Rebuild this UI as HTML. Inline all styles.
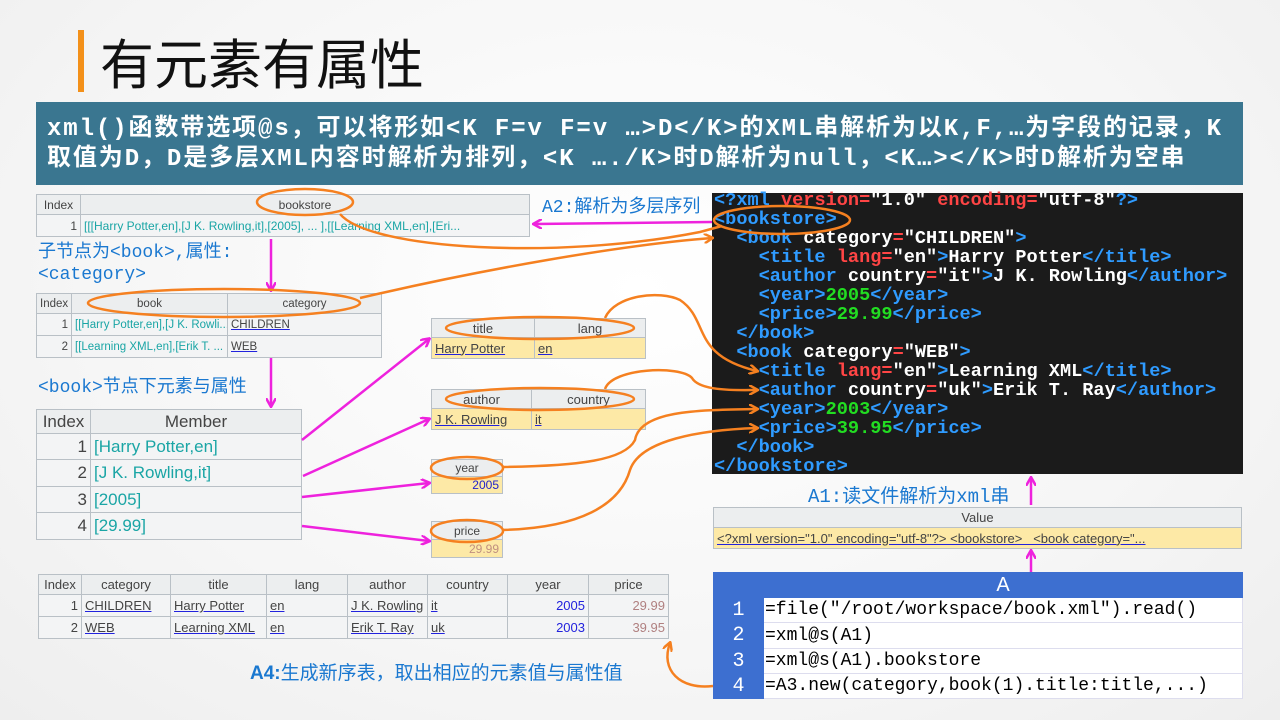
<!DOCTYPE html>
<html><head><meta charset="utf-8">
<style>
*{margin:0;padding:0;box-sizing:border-box}
body{width:1280px;height:720px;overflow:hidden;position:relative;background:radial-gradient(ellipse at 50% 40%,#ffffff 0%,#f6f6f6 60%,#eeeeee 100%);font-family:"Liberation Sans","Noto Sans CJK SC",sans-serif}
.a{position:absolute}
table{border-collapse:collapse;table-layout:fixed;position:absolute;font-family:"Liberation Sans","Noto Sans CJK SC",sans-serif;font-size:12px;color:#444}
td{border:1px solid #b9c0c6;padding:0 3px;white-space:nowrap;overflow:hidden}
.h td{background:#eceeef;text-align:center}
.r{text-align:right}
.y td{background:#fde9a6}
.u{text-decoration:underline;text-decoration-color:#2222dd;color:#444}
.t{color:#1aa5a5}
.lbl{color:#1a78d0;font-size:18px}
pre{font-family:"Liberation Mono",monospace;font-size:18.6px;line-height:19px;color:#fff;font-weight:bold}
.g{color:#2f9bff}.rd{color:#ff4545}.gr{color:#22dd22}
</style></head><body>
<div class="a" style="left:78px;top:30px;width:6px;height:62px;background:#f39019"></div>
<div class="a" style="left:100px;top:26px;font-size:54px;color:#111;font-family:'Noto Sans CJK SC',sans-serif;line-height:70px">有元素有属性</div>
<div class="a" style="left:36px;top:102px;width:1207px;height:83px;background:#3a7690;color:#fff;font-weight:bold;font-size:24px;line-height:30px;padding:13px 0 0 11px;font-family:'Liberation Mono','Noto Sans CJK SC',monospace;letter-spacing:1.9px;white-space:nowrap;overflow:hidden">xml()函数带选项@s，可以将形如&lt;K F=v F=v …&gt;D&lt;/K&gt;的XML串解析为以K,F,…为字段的记录，K<br>取值为D，D是多层XML内容时解析为排列，&lt;K …./K&gt;时D解析为null，&lt;K…&gt;&lt;/K&gt;时D解析为空串</div>

<table style="left:36px;top:194px;width:494px">
<col style="width:44px"><col>
<tr class="h" style="height:20px"><td>Index</td><td>bookstore</td></tr>
<tr style="height:22px;background:#f3f4f5"><td class="r">1</td><td class="t">[[[Harry Potter,en],[J K. Rowling,it],[2005], ... ],[[Learning XML,en],[Eri...</td></tr></table>
<div class="a lbl" style="left:38px;top:242px;line-height:22px;font-family:'Liberation Mono','Noto Sans CJK SC',monospace">子节点为&lt;book&gt;,属性:<br>&lt;category&gt;</div>

<table style="left:36px;top:293px;width:346px;font-size:11.5px">
<col style="width:35px"><col style="width:156px"><col>
<tr class="h" style="height:20px"><td>Index</td><td>book</td><td>category</td></tr>
<tr style="height:22px;background:#f3f4f5"><td class="r">1</td><td class="t">[[Harry Potter,en],[J K. Rowli...</td><td><span class="u">CHILDREN</span></td></tr>
<tr style="height:22px;background:#f3f4f5"><td class="r">2</td><td class="t">[[Learning XML,en],[Erik T. ...</td><td><span class="u">WEB</span></td></tr></table>
<div class="a lbl" style="left:38px;top:372px;font-family:'Liberation Mono','Noto Sans CJK SC',monospace">&lt;book&gt;节点下元素与属性</div>

<table style="left:36px;top:409px;width:266px;font-size:17px">
<col style="width:54px"><col>
<tr class="h" style="height:24px"><td>Index</td><td>Member</td></tr>
<tr style="height:26px;background:#f3f4f5"><td class="r">1</td><td class="t">[Harry Potter,en]</td></tr>
<tr style="height:27px;background:#f3f4f5"><td class="r">2</td><td class="t">[J K. Rowling,it]</td></tr>
<tr style="height:26px;background:#f3f4f5"><td class="r">3</td><td class="t">[2005]</td></tr>
<tr style="height:27px;background:#f3f4f5"><td class="r">4</td><td class="t">[29.99]</td></tr></table>

<table style="left:431px;top:318px;width:215px;font-size:13px">
<col style="width:103px"><col>
<tr class="h" style="height:19px"><td>title</td><td>lang</td></tr>
<tr class="y" style="height:21px"><td><span class="u">Harry Potter</span></td><td><span class="u">en</span></td></tr></table>
<table style="left:431px;top:389px;width:215px;font-size:13px">
<col style="width:100px"><col>
<tr class="h" style="height:19px"><td>author</td><td>country</td></tr>
<tr class="y" style="height:21px"><td><span class="u">J K. Rowling</span></td><td><span class="u">it</span></td></tr></table>
<table style="left:431px;top:459px;width:72px;font-size:12px">
<tr class="h" style="height:17px"><td>year</td></tr>
<tr class="y" style="height:17px"><td class="r" style="color:#2222cc">2005</td></tr></table>
<table style="left:431px;top:521px;width:72px;font-size:12px">
<tr class="h" style="height:18px"><td>price</td></tr>
<tr class="y" style="height:18px"><td class="r" style="color:#c09080">29.99</td></tr></table>

<table style="left:38px;top:574px;width:631px;font-size:13px">
<col style="width:43px"><col style="width:89px"><col style="width:96px"><col style="width:81px"><col style="width:80px"><col style="width:80px"><col style="width:81px"><col>
<tr class="h" style="height:20px"><td>Index</td><td>category</td><td>title</td><td>lang</td><td>author</td><td>country</td><td>year</td><td>price</td></tr>
<tr style="height:22px;background:#f3f4f5"><td class="r">1</td><td><span class="u">CHILDREN</span></td><td><span class="u">Harry Potter</span></td><td><span class="u">en</span></td><td><span class="u">J K. Rowling</span></td><td><span class="u">it</span></td><td class="r" style="color:#2222dd">2005</td><td class="r" style="color:#b08080">29.99</td></tr>
<tr style="height:22px;background:#f3f4f5"><td class="r">2</td><td><span class="u">WEB</span></td><td><span class="u">Learning XML</span></td><td><span class="u">en</span></td><td><span class="u">Erik T. Ray</span></td><td><span class="u">uk</span></td><td class="r" style="color:#2222dd">2003</td><td class="r" style="color:#b08080">39.95</td></tr></table>
<div class="a lbl" style="left:250px;top:658px;font-size:19px"><b>A4:</b>生成新序表，取出相应的元素值与属性值</div>

<div class="a" style="left:712px;top:193px;width:531px;height:281px;background:#1b1b1b"></div>
<pre class="a" style="left:714px;top:191px"><span class="g">&lt;?xml</span> <span class="rd">version=</span>"1.0" <span class="rd">encoding=</span>"utf-8"<span class="g">?&gt;</span>
<span class="g">&lt;bookstore&gt;</span>
  <span class="g">&lt;book</span> category<span class="rd">=</span>"CHILDREN"<span class="g">&gt;</span>
    <span class="g">&lt;title</span> <span class="rd">lang=</span>"en"<span class="g">&gt;</span>Harry Potter<span class="g">&lt;/title&gt;</span>
    <span class="g">&lt;author</span> country<span class="rd">=</span>"it"<span class="g">&gt;</span>J K. Rowling<span class="g">&lt;/author&gt;</span>
    <span class="g">&lt;year&gt;</span><span class="gr">2005</span><span class="g">&lt;/year&gt;</span>
    <span class="g">&lt;price&gt;</span><span class="gr">29.99</span><span class="g">&lt;/price&gt;</span>
  <span class="g">&lt;/book&gt;</span>
  <span class="g">&lt;book</span> category<span class="rd">=</span>"WEB"<span class="g">&gt;</span>
    <span class="g">&lt;title</span> <span class="rd">lang=</span>"en"<span class="g">&gt;</span>Learning XML<span class="g">&lt;/title&gt;</span>
    <span class="g">&lt;author</span> country<span class="rd">=</span>"uk"<span class="g">&gt;</span>Erik T. Ray<span class="g">&lt;/author&gt;</span>
    <span class="g">&lt;year&gt;</span><span class="gr">2003</span><span class="g">&lt;/year&gt;</span>
    <span class="g">&lt;price&gt;</span><span class="gr">39.95</span><span class="g">&lt;/price&gt;</span>
  <span class="g">&lt;/book&gt;</span>
<span class="g">&lt;/bookstore&gt;</span></pre>
<div class="a lbl" style="left:542px;top:192px;font-family:'Liberation Mono','Noto Sans CJK SC',monospace">A2:解析为多层序列</div>
<div class="a lbl" style="left:808px;top:481px;font-family:'Liberation Mono','Noto Sans CJK SC',monospace;font-size:19px">A1:读文件解析为xml串</div>

<table style="left:713px;top:507px;width:529px;font-size:13px">
<tr class="h" style="height:20px"><td>Value</td></tr>
<tr class="y" style="height:21px"><td><span class="u">&lt;?xml version="1.0" encoding="utf-8"?&gt; &lt;bookstore&gt; &nbsp;&nbsp;&lt;book category="...</span></td></tr></table>

<table style="left:713px;top:572px;width:530px;font-size:18px;color:#000;font-family:'Liberation Mono',monospace">
<col style="width:50px"><col>
<tr style="height:25px"><td style="background:#3d6fd0;border-color:#3d6fd0"></td><td style="background:#3d6fd0;color:#fff;text-align:center;border-color:#3d6fd0;font-family:'Liberation Sans';font-size:20px">A</td></tr>
<tr style="height:25px"><td style="background:#3d6fd0;color:#fff;text-align:center;border-color:#3d6fd0;font-size:20px">1</td><td style="background:#fff;border-color:#dde;padding:0 1px">=file("/root/workspace/book.xml").read()</td></tr>
<tr style="height:26px"><td style="background:#3d6fd0;color:#fff;text-align:center;border-color:#3d6fd0;font-size:20px">2</td><td style="background:#fff;border-color:#dde;padding:0 1px">=xml@s(A1)</td></tr>
<tr style="height:25px"><td style="background:#3d6fd0;color:#fff;text-align:center;border-color:#3d6fd0;font-size:20px">3</td><td style="background:#fff;border-color:#dde;padding:0 1px">=xml@s(A1).bookstore</td></tr>
<tr style="height:25px"><td style="background:#3d6fd0;color:#fff;text-align:center;border-color:#3d6fd0;font-size:20px">4</td><td style="background:#fff;border-color:#dde;padding:0 1px">=A3.new(category,book(1).title:title,...)</td></tr></table>

<svg class="a" style="left:0;top:0" width="1280" height="720">
<defs>
<marker id="m" markerWidth="10" markerHeight="10" refX="8" refY="5" orient="auto" markerUnits="userSpaceOnUse"><path d="M0,0 L9,5 L0,10" fill="none" stroke="#ee22dd" stroke-width="2.5"/></marker>
<marker id="o" markerWidth="10" markerHeight="10" refX="8" refY="5" orient="auto" markerUnits="userSpaceOnUse"><path d="M0,0 L9,5 L0,10" fill="none" stroke="#f58020" stroke-width="2.5"/></marker>
</defs>
<g stroke="#ee22dd" stroke-width="2.5" fill="none" marker-end="url(#m)">
<path d="M712,222 L534,224"/>
<path d="M271,239 L271,290"/>
<path d="M271,358 L271,406"/>
<path d="M302,440 L429,339"/>
<path d="M303,476 L429,419"/>
<path d="M302,497 L429,483"/>
<path d="M302,526 L429,541"/>
<path d="M1031,505 L1031,478"/>
<path d="M1031,572 L1031,551"/>
</g>
<g stroke="#f58020" stroke-width="2.5" fill="none">
<ellipse cx="305" cy="202" rx="48" ry="13"/>
<ellipse cx="224" cy="303" rx="136" ry="14"/>
<ellipse cx="782" cy="220" rx="68" ry="14"/>
<ellipse cx="540" cy="328" rx="94" ry="11"/>
<ellipse cx="540" cy="399" rx="94" ry="11"/>
<ellipse cx="467" cy="468" rx="36" ry="11"/>
<ellipse cx="467" cy="531" rx="36" ry="11"/>
<path d="M340,214 C370,250 560,260 700,232 L722,226"/>
<path d="M360,298 C480,270 620,245 712,238" marker-end="url(#o)"/>
<path d="M605,318 C615,295 660,290 680,300 C710,320 690,355 757,371" marker-end="url(#o)"/>
<path d="M605,389 C612,368 680,365 692,378 C700,392 740,390 757,390" marker-end="url(#o)"/>
<path d="M502,467 C580,466 625,460 635,440 C640,410 700,410 757,409" marker-end="url(#o)"/>
<path d="M502,530 C580,528 620,505 630,470 C640,440 700,430 757,428" marker-end="url(#o)"/>
<path d="M713,686 C680,690 660,670 670,643" marker-end="url(#o)"/>
</g>
</svg>
</body></html>
